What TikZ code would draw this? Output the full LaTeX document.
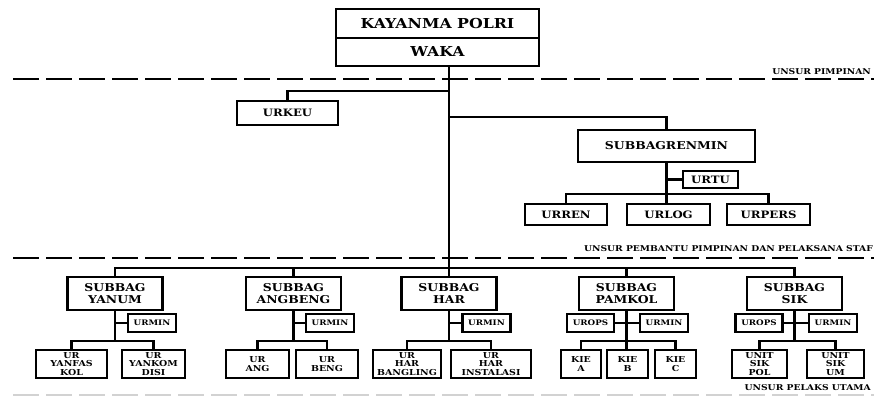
\documentclass[tikz,border=0pt]{standalone}
\usepackage{fontspec}
\setmainfont{DejaVu Serif}[FakeStretch=1.15]
\newcommand{\fsz}[2]{\bfseries\fontsize{#1}{#2}\selectfont}
\tikzset{
  box/.style={draw,line width=2.6pt,inner sep=0pt,align=center},
  big/.style={box,font=\fsz{13.7}{15}},
  mid/.style={box,font=\fsz{10.8}{12}},
  unit/.style={box,font=\fsz{10.2}{11}},
  small/.style={box,font=\fsz{7.6}{8}},
  leaf/.style={box,font=\fsz{8.2}{8.6}},
  note/.style={inner sep=0pt,font=\fsz{8}{9}},
  link/.style={line width=2.2pt},
  sep/.style={line width=2.6pt,dash pattern=on 26pt off 7pt}
}
\begin{document}
\begin{tikzpicture}[x=1pt,y=-1pt]
\useasboundingbox (0,0) rectangle (874,396);
% pimpinan
\node[big,minimum width=203pt,minimum height=29pt] (kayanma) at (437.5,23.5) {KAYANMA POLRI};
\node[big,minimum width=203pt,minimum height=28pt] (waka) at (437.5,52) {WAKA};
\draw[sep] (13,79) -- (874,79);
\node[note,anchor=south east] (pimpinan) at (871,75) {UNSUR PIMPINAN};

% pembantu pimpinan
\node[unit,minimum width=101pt,minimum height=24pt] (urkeu) at (287.5,113) {URKEU};
\node[mid,minimum width=177pt,minimum height=32pt] (renmin) at (666.5,146) {SUBBAGRENMIN};
\node[unit,minimum width=55pt,minimum height=17pt] (urtu) at (710.5,179.5) {URTU};
\node[unit,minimum width=82pt,minimum height=21pt] (urren) at (566,214.5) {URREN};
\node[unit,minimum width=83pt,minimum height=21pt] (urlog) at (668.5,214.5) {URLOG};
\node[unit,minimum width=83pt,minimum height=21pt] (urpers) at (768.5,214.5) {URPERS};
\draw[sep] (13,258) -- (874,258);
\node[note,anchor=south east] (pembantu) at (873,252) {UNSUR PEMBANTU PIMPINAN DAN PELAKSANA STAF};

% pelaksana utama
\foreach \n/\x/\t in {yanum/115/YANUM,angbeng/293.5/ANGBENG,har/449/HAR,pamkol/626.5/PAMKOL,sik/794.5/SIK}
  \node[mid,minimum width=95pt,minimum height=33pt] (\n) at (\x,293.5) {SUBBAG\\\t};
\foreach \n/\x in {yanum/152,angbeng/330,har/486.5,pamkol/664,sik/833}
  \node[small,minimum width=48pt,minimum height=18pt] (urmin-\n) at (\x,323) {URMIN};
\foreach \n/\x in {pamkol/590.5,sik/759}
  \node[small,minimum width=47pt,minimum height=18pt] (urops-\n) at (\x,323) {UROPS};
\node[leaf,minimum width=71pt,minimum height=28pt] (yanfas) at (71.5,364) {UR\\YANFAS\\KOL};
\node[leaf,minimum width=63pt,minimum height=28pt] (yankom) at (153.5,364) {UR\\YANKOM\\DISI};
\node[leaf,minimum width=63pt,minimum height=28pt] (ang) at (257.5,364) {UR\\ANG};
\node[leaf,minimum width=62pt,minimum height=28pt] (beng) at (327,364) {UR\\BENG};
\node[leaf,minimum width=68pt,minimum height=28pt] (bangling) at (407,364) {UR\\HAR\\BANGLING};
\node[leaf,minimum width=80pt,minimum height=28pt] (instalasi) at (491,364) {UR\\HAR\\INSTALASI};
\node[leaf,minimum width=40pt,minimum height=28pt] (kiea) at (581,364) {KIE\\A};
\node[leaf,minimum width=41pt,minimum height=28pt] (kieb) at (627.5,364) {KIE\\B};
\node[leaf,minimum width=41pt,minimum height=28pt] (kiec) at (675.5,364) {KIE\\C};
\node[leaf,minimum width=55pt,minimum height=28pt] (sikpol) at (759.5,364) {UNIT\\SIK\\POL};
\node[leaf,minimum width=57pt,minimum height=28pt] (sikum) at (835.5,364) {UNIT\\SIK\\UM};
\draw[sep,gray!35] (13,395) -- (874,395);
\node[note,anchor=south east] (utama) at (871,391) {UNSUR PELAKS UTAMA};

% garis komando
\draw[link] (waka.south -| har.north) -- (har.north);
\draw[link] (urkeu.north) |- (har.north |- 0,91);
\draw[link] (renmin.north) |- (har.north |- 0,117);
\draw[link] (urtu.west) -- (urtu.west -| renmin.south);
\draw[link] (renmin.south) -- (renmin.south |- urlog.north);
\draw[link] (urren.north) -- ++(0,-9) -| (urpers.north);
\draw[link] (yanum.north) -- ++(0,-8) -| (sik.north);
\foreach \n in {angbeng,pamkol}
  \draw[link] (\n.north) -- ++(0,-8);
\foreach \n/\l/\r in {yanum/yanfas/yankom,angbeng/ang/beng,har/bangling/instalasi,pamkol/kiea/kiec,sik/sikpol/sikum}{
  \draw[link] (\n.south) -- (\n.south |- 0,342);
  \draw[link] (urmin-\n.west) -- (urmin-\n.west -| \n.south);
  \draw[link] (\l.north) -- ++(0,-8) -| (\r.north);
}
\draw[link] (pamkol.south |- 0,342) -- (pamkol.south |- kieb.north);
\foreach \n in {pamkol,sik}
  \draw[link] (urops-\n.east) -- (urops-\n.east -| \n.south);
\end{tikzpicture}
\end{document}
